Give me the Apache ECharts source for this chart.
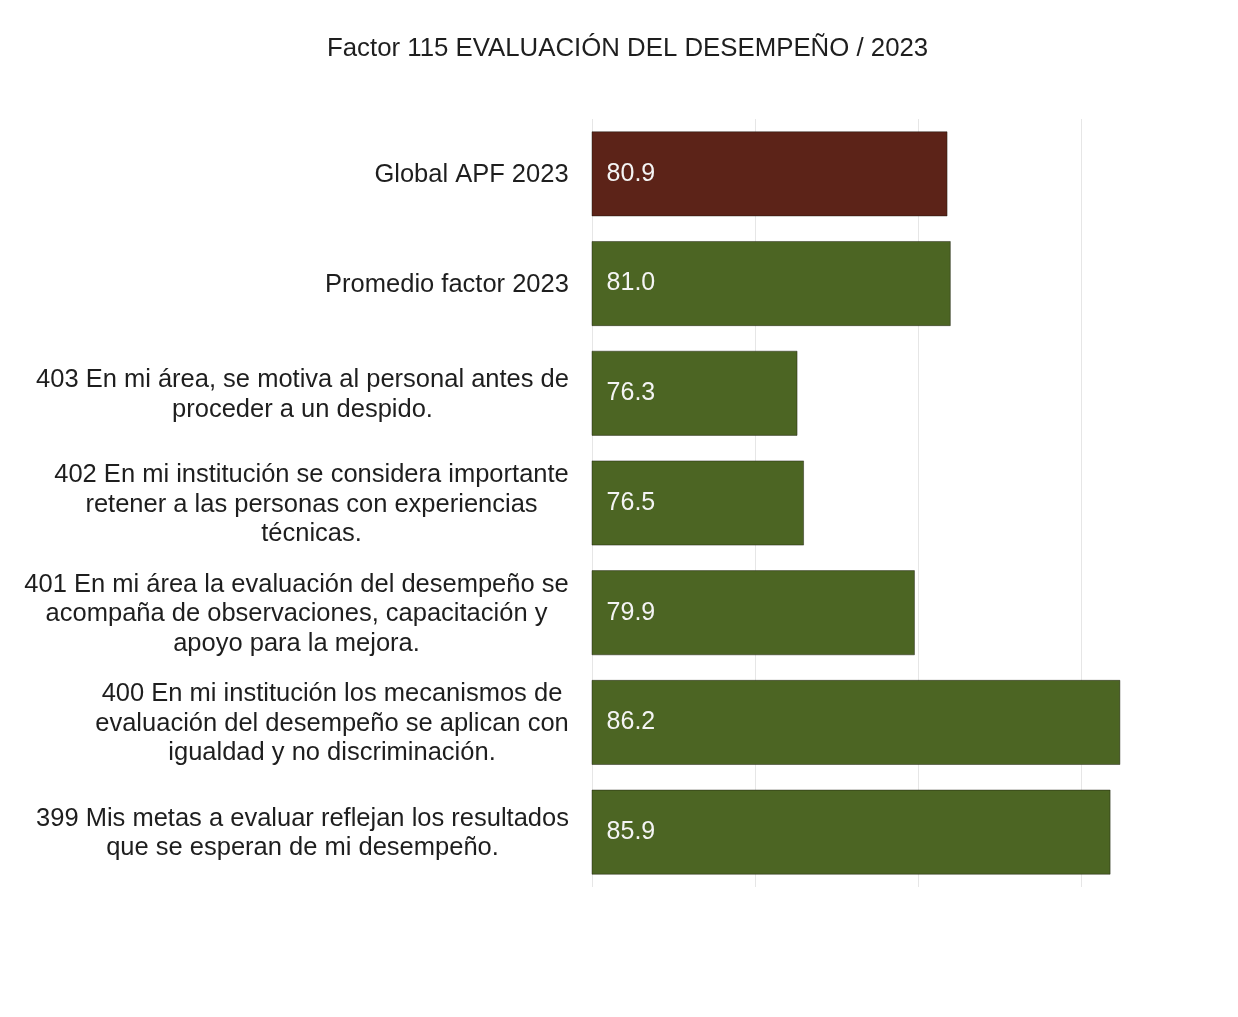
<!DOCTYPE html>
<html>
<head>
<meta charset="utf-8">
<script src="https://cdn.jsdelivr.net/npm/echarts@6/dist/echarts.min.js"></script>
<style>
  html, body { margin: 0; padding: 0; background: #ffffff; }
  #chart { width: 1238px; height: 1017px; }
</style>
</head>
<body>
<div id="chart"></div>
<script>
// Items of the factor, top to bottom
const categories = [
  'Global APF 2023',
  'Promedio factor 2023',
  '403 En mi área, se motiva al personal antes de\nproceder a un despido.',
  '402 En mi institución se considera importante\nretener a las personas con experiencias\ntécnicas.',
  '401 En mi área la evaluación del desempeño se\nacompaña de observaciones, capacitación y\napoyo para la mejora.',
  '400 En mi institución los mecanismos de\nevaluación del desempeño se aplican con\nigualdad y no discriminación.',
  '399 Mis metas a evaluar reflejan los resultados\nque se esperan de mi desempeño.'
];
const scores = [80.9, 81.0, 76.3, 76.5, 79.9, 86.2, 85.9];
const barColors = ['#5c2318', '#4c6523', '#4c6523', '#4c6523', '#4c6523', '#4c6523', '#4c6523'];

const fontFamily = '"Liberation Sans", Arial, sans-serif';
const labelSize = 25.5;

// Each multi-line label is centred on its own widest line
const ctx = document.createElement('canvas').getContext('2d');
ctx.font = labelSize + 'px ' + fontFamily;
const rich = {};
categories.forEach((c, i) => {
  const w = Math.max(...c.split('\n').map(l => ctx.measureText(l).width));
  rich['c' + i] = { width: Math.ceil(w), align: 'center', fontSize: labelSize, lineHeight: 29.5,
    fontFamily: fontFamily, color: '#1e1e1e', padding: [3, 0, 0, 0] };
});

const chart = echarts.init(document.getElementById('chart'), null, { renderer: 'canvas' });
chart.setOption({
  animation: false,
  backgroundColor: '#ffffff',
  title: {
    text: 'Factor 115 EVALUACIÓN DEL DESEMPEÑO / 2023',
    left: 322,
    top: 31,
    textStyle: { fontSize: 25.8, fontWeight: 'normal', color: '#1e1e1e', fontFamily: fontFamily }
  },
  grid: { left: 592, top: 119, width: 587, height: 768, containLabel: false },
  xAxis: {
    type: 'value',
    min: 70,
    max: 88,
    interval: 5,
    axisLine: { show: false },
    axisTick: { show: false },
    axisLabel: { show: false },
    splitLine: { showMaxLine: false, lineStyle: { color: '#e6e6e6', width: 1 } }
  },
  yAxis: {
    type: 'category',
    inverse: true,
    data: categories,
    axisLine: { show: false },
    axisTick: { show: false },
    axisLabel: {
      margin: 23,
      align: 'right',
      formatter: (v, i) => v.split('\n').map(l => '{c' + i + '|' + l + '}').join('\n'),
      rich: rich
    }
  },
  series: [{
    type: 'bar',
    barWidth: 85,
    data: scores.map((v, i) => ({ value: v, itemStyle: { color: barColors[i] } })),
    itemStyle: { borderColor: 'rgba(20,20,10,0.55)', borderWidth: 0.8 },
    label: {
      show: true,
      position: 'insideLeft',
      distance: 15,
      formatter: p => p.value.toFixed(1),
      color: '#f4f4f4',
      fontSize: 25,
      fontFamily: fontFamily
    }
  }]
});
</script>
</body>
</html>
